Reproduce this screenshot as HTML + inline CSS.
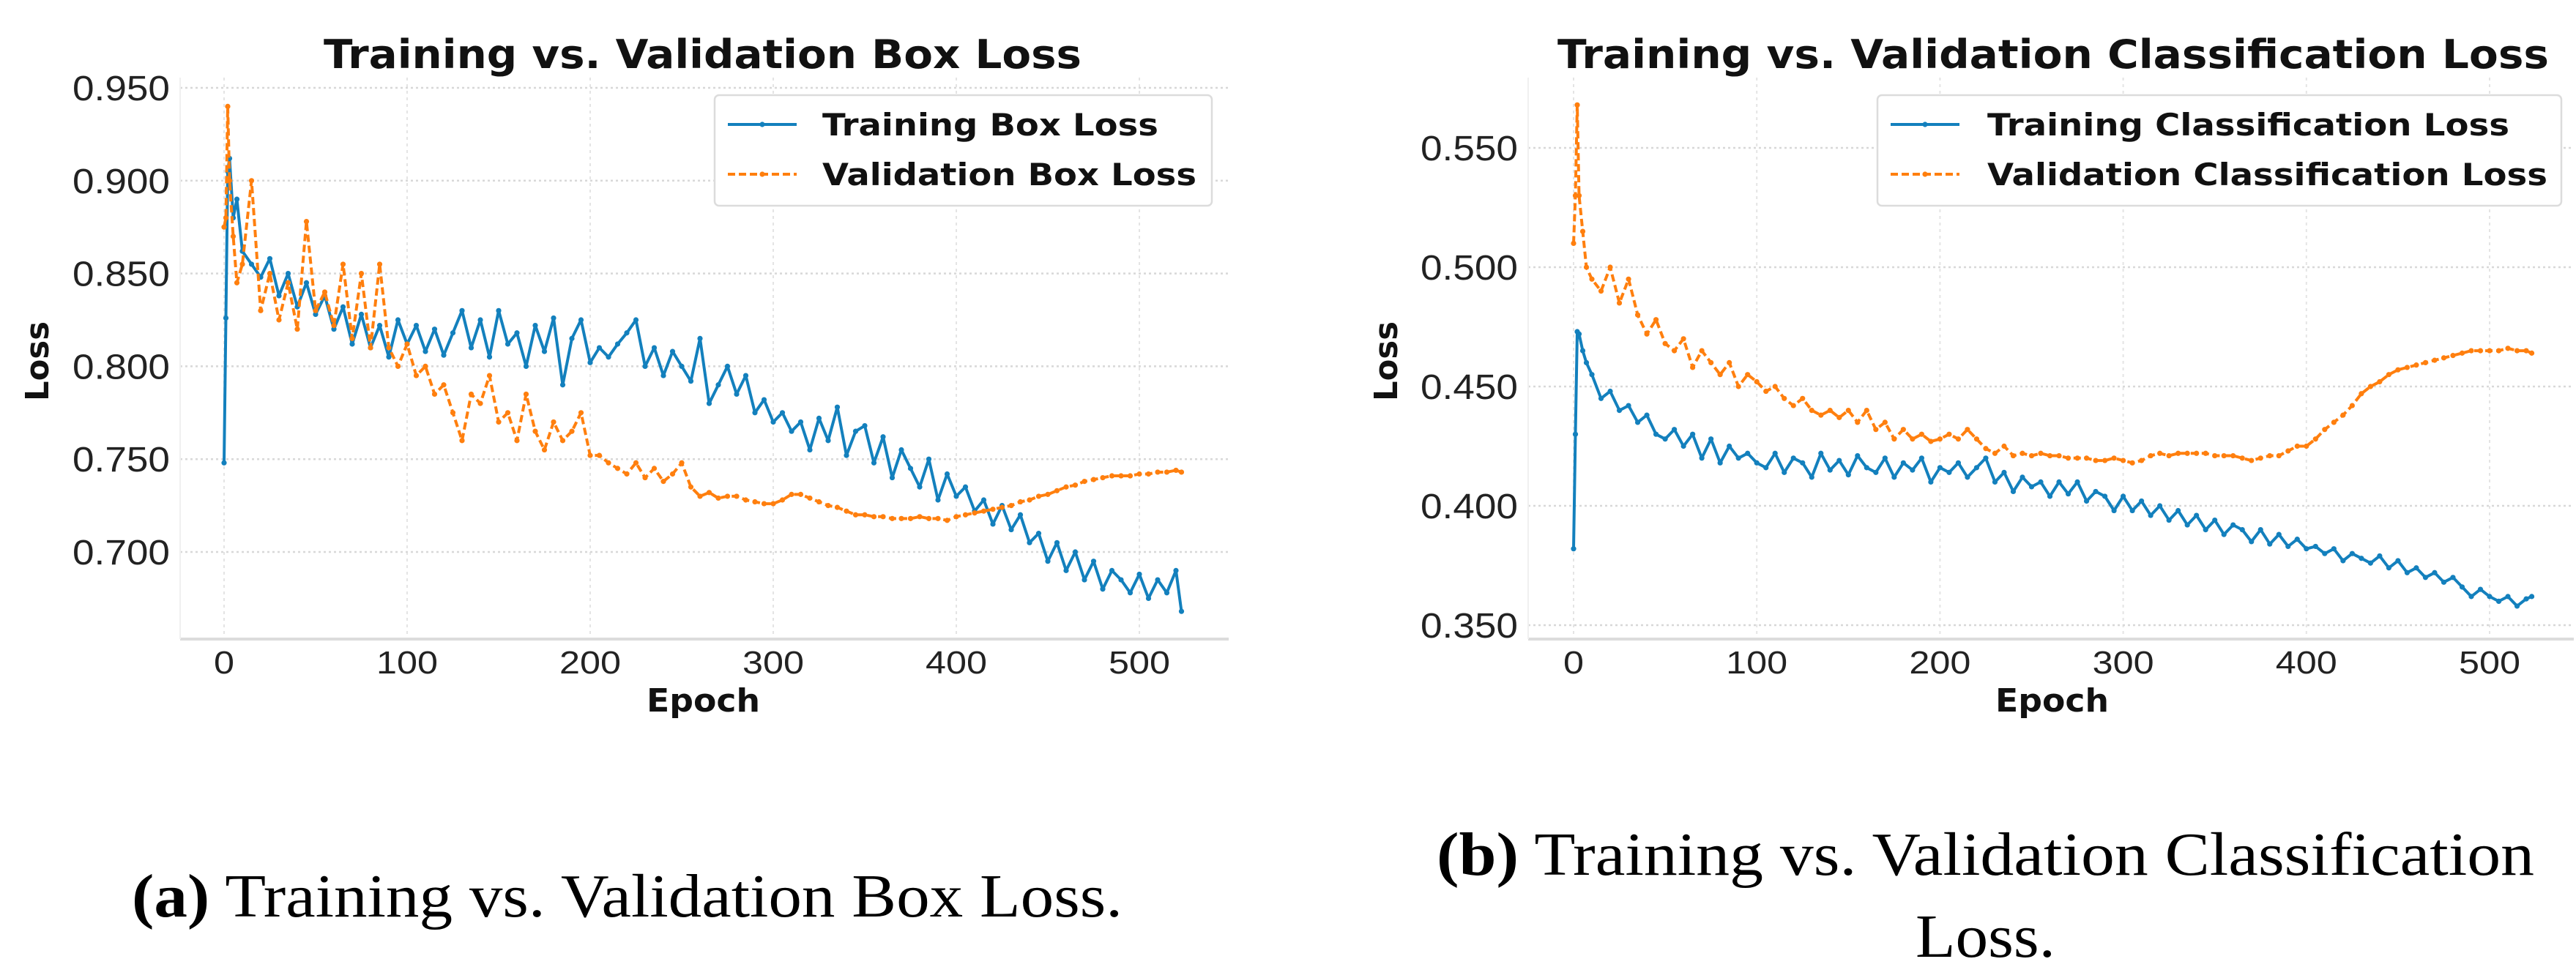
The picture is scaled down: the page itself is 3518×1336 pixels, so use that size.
<!DOCTYPE html>
<html><head><meta charset="utf-8"><style>
html,body{margin:0;padding:0;background:#fff;}
svg{display:block;}
</style></head><body>
<svg id="fig" width="3518" height="1336" viewBox="0 0 3518 1336" xmlns="http://www.w3.org/2000/svg">
<g id="left"></g>
<g id="right"></g>
<text x="180" y="1252" font-family="Liberation Serif, serif" font-size="84" textLength="1353" lengthAdjust="spacingAndGlyphs"><tspan font-weight="bold">(a)</tspan> Training vs. Validation Box Loss.</text>
<text x="1962" y="1195" font-family="Liberation Serif, serif" font-size="84" textLength="1499" lengthAdjust="spacingAndGlyphs"><tspan font-weight="bold">(b)</tspan> Training vs. Validation Classification</text>
<text x="2616" y="1307" font-family="Liberation Serif, serif" font-size="84" textLength="191" lengthAdjust="spacingAndGlyphs">Loss.</text>
</svg>
<script>
const epochs = [0,1,2,3,5,7,10,15,20,25,30,35,40,45,50,55,60,65,70,75,80,85,90,95,100,105,110,115,120,125,130,135,140,145,150,155,160,165,170,175,180,185,190,195,200,205,210,215,220,225,230,235,240,245,250,255,260,265,270,275,280,285,290,295,300,305,310,315,320,325,330,335,340,345,350,355,360,365,370,375,380,385,390,395,400,405,410,415,420,425,430,435,440,445,450,455,460,465,470,475,480,485,490,495,500,505,510,515,520,523];
const trainBox = [0.748,0.826,0.905,0.912,0.88,0.89,0.862,
0.855,0.848,0.858,0.838,0.85,0.832,0.845,0.828,0.838,0.82,0.832,0.812,0.828,0.81,0.822,0.805,0.825,0.812,
0.822,0.808,0.82,0.806,0.818,0.83,0.81,0.825,0.805,0.83,0.812,0.818,0.8,0.822,0.808,0.826,0.79,0.815,0.825,0.802,
0.81,0.805,0.812,0.818,0.825,0.8,0.81,0.795,0.808,0.8,0.792,0.815,0.78,0.79,0.8,0.785,0.795,0.775,0.782,0.77,
0.775,0.765,0.77,0.755,0.772,0.76,0.778,0.752,0.765,0.768,0.748,0.762,0.74,0.755,0.745,0.735,0.75,0.728,0.742,0.73,
0.735,0.722,0.728,0.715,0.725,0.712,0.72,0.705,0.71,0.695,0.705,0.69,0.7,0.685,0.695,0.68,0.69,0.685,0.678,0.688,
0.675,0.685,0.678,0.69,0.668];
const valBox = [0.875,0.88,0.94,0.9,0.87,0.845,0.855,
0.9,0.83,0.85,0.825,0.845,0.82,0.878,0.83,0.84,0.822,0.855,0.815,0.85,0.81,0.855,0.81,0.8,0.812,
0.795,0.8,0.785,0.79,0.775,0.76,0.785,0.78,0.795,0.77,0.775,0.76,0.785,0.765,0.755,0.77,0.76,0.765,0.775,0.752,
0.752,0.748,0.745,0.742,0.748,0.74,0.745,0.738,0.742,0.748,0.735,0.73,0.732,0.729,0.73,0.73,0.728,0.727,0.726,0.726,
0.728,0.731,0.731,0.729,0.727,0.725,0.724,0.722,0.72,0.72,0.719,0.719,0.718,0.718,0.718,0.719,0.718,0.718,0.717,0.719,
0.72,0.721,0.722,0.723,0.724,0.725,0.727,0.728,0.73,0.731,0.733,0.735,0.736,0.738,0.739,0.74,0.741,0.741,0.741,0.742,
0.742,0.743,0.743,0.744,0.743];
const trainCls = [0.382,0.43,0.473,0.472,0.465,0.46,0.455,
0.445,0.448,0.44,0.442,0.435,0.438,0.43,0.428,0.432,0.425,0.43,0.42,0.428,0.418,0.425,0.42,0.422,0.418,
0.416,0.422,0.414,0.42,0.418,0.412,0.422,0.415,0.419,0.413,0.421,0.416,0.414,0.42,0.412,0.418,0.415,0.42,0.41,0.416,
0.414,0.418,0.412,0.416,0.42,0.41,0.414,0.406,0.412,0.408,0.41,0.404,0.41,0.405,0.41,0.402,0.406,0.404,0.398,0.404,
0.398,0.402,0.396,0.4,0.394,0.398,0.392,0.396,0.39,0.394,0.388,0.392,0.39,0.385,0.39,0.384,0.388,0.383,0.386,0.382,
0.383,0.38,0.382,0.377,0.38,0.378,0.376,0.379,0.374,0.377,0.372,0.374,0.37,0.372,0.368,0.37,0.366,0.362,0.365,0.362,
0.36,0.362,0.358,0.361,0.362];
const valCls = [0.51,0.53,0.568,0.53,0.515,0.5,0.495,
0.49,0.5,0.485,0.495,0.48,0.472,0.478,0.468,0.465,0.47,0.458,0.465,0.46,0.455,0.46,0.45,0.455,0.452,
0.448,0.45,0.445,0.442,0.445,0.44,0.438,0.44,0.437,0.44,0.435,0.44,0.432,0.435,0.428,0.432,0.428,0.43,0.427,0.428,
0.43,0.428,0.432,0.428,0.424,0.422,0.425,0.421,0.422,0.421,0.422,0.421,0.421,0.42,0.42,0.42,0.419,0.419,0.42,0.419,
0.418,0.419,0.421,0.422,0.421,0.422,0.422,0.422,0.422,0.421,0.421,0.421,0.42,0.419,0.42,0.421,0.421,0.423,0.425,0.425,
0.428,0.432,0.435,0.438,0.442,0.447,0.45,0.452,0.455,0.457,0.458,0.459,0.46,0.461,0.462,0.463,0.464,0.465,0.465,0.465,
0.465,0.466,0.465,0.465,0.464];
const xTicks = [0,100,200,300,400,500];
const yTicksBox = [0.700,0.750,0.800,0.850,0.900,0.950];
const yTicksCls = [0.350,0.400,0.450,0.500,0.550];

const NS = "http://www.w3.org/2000/svg";
function mk(parent, tag, attrs, text){
  const e = document.createElementNS(NS, tag);
  for (const k in attrs) e.setAttribute(k, attrs[k]);
  if (text !== undefined) e.textContent = text;
  parent.appendChild(e);
  return e;
}

function drawChart(g, cfg){
  const xs = v => cfg.x0 + (v - 0) * (cfg.x500 - cfg.x0) / 500;
  const ys = v => cfg.yA + (v - cfg.vA) * (cfg.yB - cfg.yA) / (cfg.vB - cfg.vA);
  xTicks.forEach(t => {
    const l = mk(g, 'line', {x1: xs(t), x2: xs(t), y1: cfg.top, y2: cfg.bottom, stroke: '#e4e4e4', 'stroke-width': 2, 'stroke-dasharray': '4 5'});
    
    
    const tx = mk(g, 'text', {x: xs(t), y: 920, 'text-anchor': 'middle', 'font-family': 'Liberation Sans, sans-serif', 'font-size': 44, fill: '#222', textLength: String(t).length * 28, lengthAdjust: 'spacingAndGlyphs'}, String(t));
    
    
  });
  cfg.yTicks.forEach(t => {
    const l = mk(g, 'line', {x1: cfg.left, x2: cfg.right, y1: ys(t), y2: ys(t), stroke: '#d8d8d8', 'stroke-width': 2.5, 'stroke-dasharray': '3 4'});
    
    
    const tx = mk(g, 'text', {x: cfg.left - 14, y: ys(t) + 17, 'text-anchor': 'end', 'font-family': 'Liberation Sans, sans-serif', 'font-size': 48, fill: '#222', textLength: 133, lengthAdjust: 'spacingAndGlyphs'}, t.toFixed(3));
    
    
  });
  const sp = mk(g, 'line', {x1: cfg.left, x2: cfg.right, y1: cfg.bottom, y2: cfg.bottom, stroke: '#dcdcdc', 'stroke-width': 4});
  
  
  const sp2 = mk(g, 'line', {x1: cfg.left, x2: cfg.left, y1: cfg.top, y2: cfg.bottom, stroke: '#f0f0f0', 'stroke-width': 2});
  
  
  cfg.series.forEach(s => {
    const pts = epochs.map((e, i) => xs(e).toFixed(1) + ',' + ys(s.vals[i]).toFixed(1)).join(' ');
    const pl = mk(g, 'polyline', {points: pts, fill: 'none', stroke: s.color, 'stroke-width': 4, 'stroke-linejoin': 'round', 'stroke-dasharray': s.dash || 'none'});
    
    
    epochs.forEach((e, i) => {
      const c = mk(g, 'circle', {cx: xs(e), cy: ys(s.vals[i]), r: 3.6, fill: s.color});
      
      
    });
  });
  const ti = mk(g, 'text', {x: cfg.titleX, y: 93, 'font-family': 'DejaVu Sans, sans-serif', 'font-weight': 'bold', 'font-size': 54, fill: '#111', textLength: cfg.titleW, lengthAdjust: 'spacingAndGlyphs'}, cfg.title);
  
  
  const xl = mk(g, 'text', {x: cfg.epochX, y: 972, 'font-family': 'DejaVu Sans, sans-serif', 'font-weight': 'bold', 'font-size': 44, fill: '#111', textLength: 155, lengthAdjust: 'spacingAndGlyphs'}, 'Epoch');
  
  
  const yl = mk(g, 'text', {x: 0, y: 0, transform: 'translate(' + (cfg.lossX + 15) + ',548) rotate(-90)', 'font-family': 'DejaVu Sans, sans-serif', 'font-weight': 'bold', 'font-size': 44, fill: '#111', textLength: 109, lengthAdjust: 'spacingAndGlyphs'}, 'Loss');
  
  
  const lg = mk(g, 'g', {});
  
  
  mk(lg, 'rect', {x: cfg.legX, y: 130, width: cfg.legW, height: 151, rx: 6, fill: '#fff', stroke: '#dcdcdc', 'stroke-width': 2.5});
  cfg.series.forEach((s, i) => {
    const yy = i === 0 ? 170 : 238;
    const ent = mk(lg, 'g', {});
    
    
    mk(ent, 'line', {x1: cfg.legX + 18, x2: cfg.legX + 112, y1: yy, y2: yy, stroke: s.color, 'stroke-width': 4, 'stroke-dasharray': s.dash || 'none'});
    mk(ent, 'circle', {cx: cfg.legX + 65, cy: yy, r: 3.6, fill: s.color});
    mk(ent, 'text', {x: cfg.legTextX, y: yy + 15, 'font-family': 'DejaVu Sans, sans-serif', 'font-weight': 'bold', 'font-size': 42, fill: '#111', textLength: s.legW, lengthAdjust: 'spacingAndGlyphs'}, s.label);
  });
}

drawChart(document.getElementById('left'), {
  left: 246, right: 1678, top: 106, bottom: 873,
  x0: 306, x500: 1556, yA: 120, vA: 0.950, yB: 754, vB: 0.700,
  yTicks: yTicksBox, title: 'Training vs. Validation Box Loss', titleX: 442, titleW: 1035,
  epochX: 883, lossX: 51, legX: 976, legW: 679, legTextX: 1123,
  series: [
    {name: 'training-box-loss-line', vals: trainBox, color: '#1380bd', label: 'Training Box Loss', legW: 459},
    {name: 'validation-box-loss-line', vals: valBox, color: '#ff7f0e', dash: '10 5', label: 'Validation Box Loss', legW: 511}
  ]
});
drawChart(document.getElementById('right'), {
  left: 2087, right: 3515, top: 106, bottom: 873,
  x0: 2149, x500: 3400, yA: 202, vA: 0.550, yB: 854, vB: 0.350,
  yTicks: yTicksCls, title: 'Training vs. Validation Classification Loss', titleX: 2127, titleW: 1354,
  epochX: 2725, lossX: 1893, legX: 2564, legW: 934, legTextX: 2714,
  series: [
    {name: 'training-classification-loss-line', vals: trainCls, color: '#1380bd', label: 'Training Classification Loss', legW: 713},
    {name: 'validation-classification-loss-line', vals: valCls, color: '#ff7f0e', dash: '10 5', label: 'Validation Classification Loss', legW: 765}
  ]
});
</script>
</body></html>
